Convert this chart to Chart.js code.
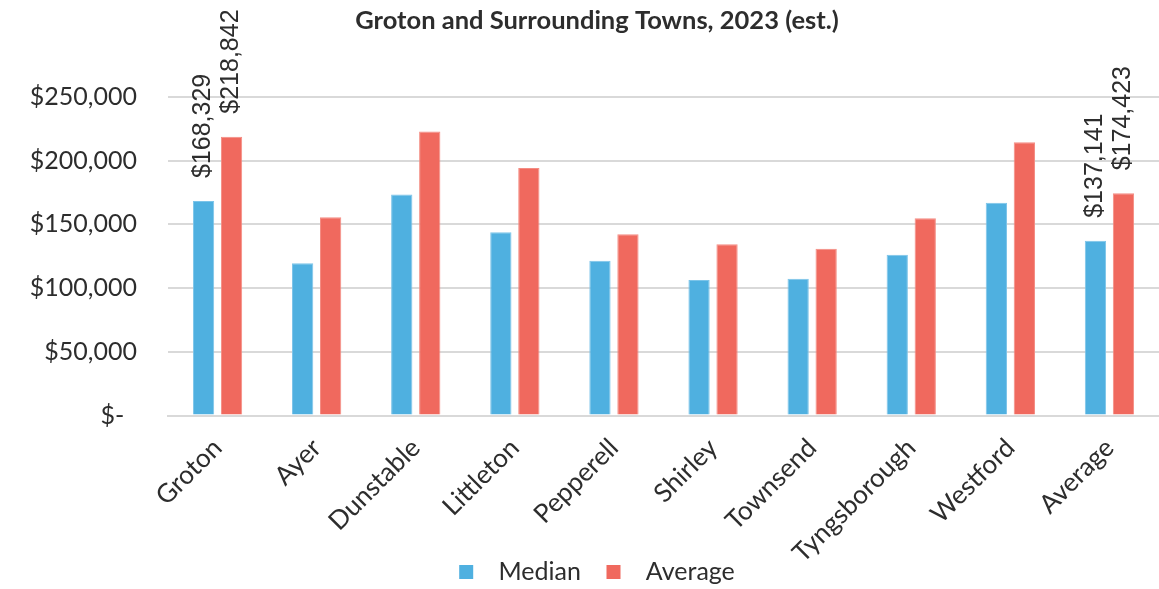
<!DOCTYPE html>
<html>
<head>
<meta charset="utf-8">
<script src="https://cdn.jsdelivr.net/npm/chart.js@4.4.1/dist/chart.umd.min.js"></script>
<style>
  html, body { margin: 0; padding: 0; background: #ffffff; }
  #wrap { width: 1159px; height: 589px; overflow: hidden; position: relative; }
  canvas { display: block; }
</style>
</head>
<body>
<div id="wrap"><canvas id="chart" width="1194" height="589"></canvas></div>
<script>
// Towns compared, plus the overall average
const towns = ['Groton', 'Ayer', 'Dunstable', 'Littleton', 'Pepperell', 'Shirley',
               'Townsend', 'Tyngsborough', 'Westford', 'Average'];

// Household income, 2023 estimates (USD)
const medianIncome  = [168329, 119600, 173400, 143900, 121400, 106300, 107300, 126100, 166900, 137141];
const averageIncome = [218842, 155600, 223000, 194300, 142300, 134500, 130800, 154900, 214400, 174423];

// Value axis ticks
const yTickValues = [0, 50000, 100000, 150000, 200000, 250000];

// Categories whose bars carry a value label
const labeledTowns = ['Groton', 'Average'];

const seriesNames = ['Median', 'Average'];
const BLUE = '#4fb0e0';
const RED = '#f0695e';
const TEXT = '#2d2d2d';

const money = v => '$' + Math.round(v).toLocaleString('en-US');

// Vertical value labels above selected bars
const barValueLabels = {
  id: 'barValueLabels',
  afterDatasetsDraw(chart) {
    const ctx = chart.ctx;
    ctx.save();
    ctx.font = '25px "Liberation Sans", Arial, sans-serif';
    ctx.fillStyle = TEXT;
    ctx.textAlign = 'left';
    ctx.textBaseline = 'middle';
    chart.data.datasets.forEach((ds, di) => {
      const meta = chart.getDatasetMeta(di);
      meta.data.forEach((bar, i) => {
        if (!labeledTowns.includes(chart.data.labels[i])) return;
        ctx.save();
        ctx.translate(bar.x, bar.y - 23);
        ctx.rotate(-Math.PI / 2);
        ctx.fillText(money(ds.data[i]), 0, 0);
        ctx.restore();
      });
    });
    ctx.restore();
  }
};

new Chart(document.getElementById('chart'), {
  type: 'bar',
  data: {
    labels: towns,
    datasets: [
      {
        label: seriesNames[0],
        data: medianIncome,
        backgroundColor: BLUE,
        borderColor: '#7cc4e9',
        borderWidth: 1,
        categoryPercentage: 0.565,
        barPercentage: 0.76
      },
      {
        label: seriesNames[1],
        data: averageIncome,
        backgroundColor: RED,
        borderColor: '#f48c83',
        borderWidth: 1,
        categoryPercentage: 0.565,
        barPercentage: 0.76
      }
    ]
  },
  options: {
    responsive: false,
    animation: false,
    devicePixelRatio: 1,
    layout: { padding: { left: 0, right: 0, top: 0, bottom: -5.5 } },
    plugins: {
      title: {
        display: true,
        text: 'Groton and Surrounding Towns, 2023 (est.)',
        color: TEXT,
        font: { family: 'Lato', size: 25.5, weight: 'bold' },
        padding: { top: 5, bottom: 61.4 }
      },
      legend: {
        display: true,
        position: 'bottom',
        labels: {
          color: TEXT,
          font: { family: 'Lato', size: 25 },
          boxWidth: 14,
          boxHeight: 14,
          padding: 0,
          generateLabels(chart) {
            return chart.data.datasets.map((ds, i) => ({
              text: '  ' + ds.label + (i === 0 ? '    ' : ''),
              fillStyle: ds.backgroundColor,
              strokeStyle: ds.backgroundColor,
              lineWidth: 0,
              fontColor: TEXT,
              hidden: false,
              datasetIndex: i
            }));
          }
        }
      },
      tooltip: { enabled: false }
    },
    scales: {
      x: {
        grid: { display: false, drawTicks: false },
        border: { display: true, color: '#d9d9d9', width: 2 },
        ticks: {
          color: TEXT,
          font: { family: 'Lato', size: 26 },
          maxRotation: 45,
          minRotation: 45,
          padding: 17,
          autoSkip: false
        },
        afterFit(scale) { scale.height = 144; }
      },
      y: {
        min: 0,
        max: 250000,
        afterBuildTicks(scale) { scale.ticks = yTickValues.map(v => ({ value: v })); },
        grid: { color: '#d9d9d9', lineWidth: 2, drawTicks: false },
        border: { display: false },
        ticks: {
          color: TEXT,
          font: { family: 'Lato', size: 25 },
          padding: 31,
          callback: v => (v === 0 ? '$-  ' : money(v))
        },
        afterFit(scale) { scale.width = 168; }
      },
      // Empty margin on the right of the plot area
      margin: {
        type: 'linear',
        position: 'right',
        display: true,
        grid: { display: false, drawTicks: false },
        border: { display: false },
        ticks: { display: false },
        afterFit(scale) { scale.width = 35; }
      }
    }
  },
  plugins: [barValueLabels]
});
</script>
</body>
</html>
